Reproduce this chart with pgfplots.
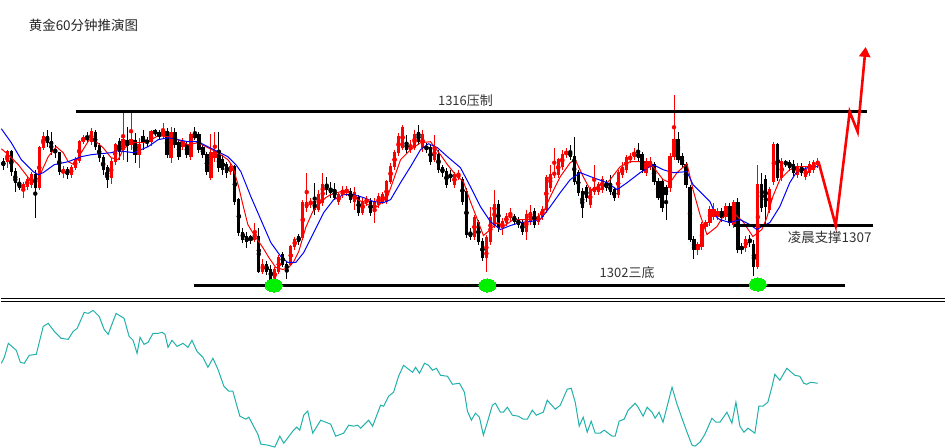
\documentclass[border=0pt]{standalone}
\usepackage{fontspec}
\setmainfont{Liberation Sans}
\newfontfamily\cjk{Noto Sans CJK SC}
\usepackage{pgfplots}
\usepackage{pgfplotstable}
\pgfplotsset{compat=1.18}
\usetikzlibrary{arrows.meta}
\definecolor{cred}{RGB}{255,0,0}
\definecolor{cblue}{RGB}{0,0,255}
\definecolor{osc}{RGB}{32,178,170}
\definecolor{dot}{RGB}{0,240,0}

% candles in pixel coordinates (y downward): x open close high low
\pgfplotstableread{
x o c h l
6 162 152 150 168
22 189 185 182 198
26 187 180 176 190
30 185 175 172 188
38 188 148 146 190
42 148 137 132 150
62 173 170 166 178
70 175 168 165 178
74 168 160 157 170
78 161 142 140 163
82 142 138 135 144
90 142 132 128 145
110 178 162 158 184
114 162 145 143 165
122 150 140 113 160
130 145 140 113 150
138 155 145 138 168
150 142 132 130 146
162 136 132 123 138
170 158 133 127 163
182 147 142 138 150
190 157 135 132 160
210 178 153 134 180
214 158 152 132 162
230 172 167 164 175
254 240 232 223 242
262 272 265 260 275
274 280 270 268 283
278 272 258 255 275
290 265 247 245 267
294 247 240 237 250
302 238 203 200 240
306 208 203 173 212
310 205 202 198 208
318 210 195 190 212
322 203 185 173 206
338 202 195 193 205
342 195 192 186 198
346 193 190 186 196
354 202 193 187 210
362 213 202 198 215
366 203 200 196 206
374 212 202 198 223
378 205 197 193 208
382 202 195 192 204
386 202 182 180 204
390 182 167 163 184
394 167 153 150 170
398 153 137 133 156
402 148 128 125 150
410 150 147 140 153
414 148 135 130 150
422 148 135 130 152
434 160 147 135 162
454 185 175 172 188
458 178 175 170 180
474 237 218 215 240
486 258 238 235 273
490 242 218 207 245
494 225 205 190 228
502 228 222 218 235
506 223 217 213 226
510 218 215 208 221
526 232 215 210 240
530 222 213 205 225
538 222 217 213 225
542 217 210 206 220
546 210 178 175 213
550 188 175 165 192
554 175 173 148 178
558 175 160 158 178
562 167 155 150 170
566 155 152 148 158
590 205 190 187 208
594 192 188 165 195
598 192 185 182 195
602 190 180 176 193
618 195 173 170 198
622 175 168 162 178
626 170 158 155 173
630 160 157 153 163
634 157 153 148 160
646 173 162 158 176
650 167 162 157 170
670 188 157 153 192
674 157 140 95 160
698 250 245 242 255
702 247 225 222 250
706 227 223 220 230
710 223 210 206 226
714 217 210 203 220
718 217 212 208 220
726 217 207 203 220
734 225 203 200 228
746 248 240 236 252
758 267 185 165 270
770 210 190 187 213
774 182 145 142 185
782 178 162 158 181
798 175 167 163 178
806 177 170 166 180
810 173 165 161 176
814 170 163 160 173
818 165 162 158 168
}\up

\pgfplotstableread{
x o c h l
2 162 166 158 170
10 152 172 150 176
14 172 183 168 192
18 183 188 178 190
34 175 188 170 218
46 137 143 130 147
50 142 152 132 155
54 150 153 145 158
58 153 172 152 175
66 170 175 167 179
86 137 140 132 143
94 133 147 130 150
98 146 158 143 162
102 158 170 155 175
106 168 180 165 188
118 142 152 138 160
126 141 145 127 162
134 141 155 133 163
142 137 142 130 150
146 141 143 137 147
154 131 134 129 136
158 133 137 130 140
166 132 155 128 158
174 133 145 128 148
178 143 157 140 160
186 145 155 142 158
194 135 138 127 140
198 135 150 132 153
202 148 155 145 158
206 155 172 152 175
218 155 168 132 172
222 160 170 155 175
226 165 173 162 178
234 167 202 165 205
238 200 233 198 236
242 233 240 228 243
246 237 242 232 248
250 237 240 235 244
258 237 272 228 274
266 265 272 262 276
270 270 280 266 282
282 255 265 252 268
286 265 270 262 280
298 237 242 234 245
314 202 210 183 215
326 185 190 177 195
330 189 193 182 198
334 190 198 183 200
350 192 200 188 203
358 198 213 195 216
370 202 213 198 216
406 143 150 135 153
418 133 142 125 145
426 147 150 143 153
430 148 162 145 165
438 155 170 150 173
442 168 173 165 177
446 172 185 168 188
450 175 178 170 182
462 180 202 177 205
466 192 235 188 238
470 233 237 228 240
478 223 242 220 245
482 242 258 238 262
498 205 228 200 232
514 217 222 214 224
518 220 225 217 228
522 223 232 220 235
534 212 225 208 228
570 152 157 145 160
574 157 182 137 185
578 173 193 170 196
582 192 208 188 218
586 188 198 185 202
606 183 188 180 191
610 185 192 175 195
614 190 198 187 201
638 153 158 143 161
642 155 170 152 173
654 165 182 162 185
658 182 198 178 200
662 182 208 178 212
666 188 195 185 220
678 140 160 132 163
682 157 165 153 168
686 165 185 162 188
690 188 240 185 242
694 240 250 236 260
722 212 218 208 222
730 207 223 203 226
738 203 250 198 253
742 247 250 243 254
750 240 243 235 247
754 245 267 240 277
762 185 208 173 212
766 180 207 175 225
778 145 178 143 181
786 162 165 160 167
790 163 168 160 171
794 165 173 160 176
802 167 173 163 176
}\down

\begin{document}
\begin{tikzpicture}
\begin{axis}[width=945pt,height=448pt,scale only axis,
  xmin=0,xmax=945,ymin=0,ymax=448,y dir=reverse,
  hide axis,clip=false]
\fill[white] (axis cs:0,0) rectangle (axis cs:945,448);

% wicks
\addplot[cred, only marks, mark=none, forget plot,
  error bars/.cd, y dir=both, y explicit, error mark=none,
  error bar style={line width=1pt, cred}]
  table[x=x, y expr={(\thisrow{h}+\thisrow{l})/2}, y error expr={(\thisrow{l}-\thisrow{h})/2}] {\up};
\addplot[black, only marks, mark=none, forget plot,
  error bars/.cd, y dir=both, y explicit, error mark=none,
  error bar style={line width=1pt, black}]
  table[x=x, y expr={(\thisrow{h}+\thisrow{l})/2}, y error expr={(\thisrow{l}-\thisrow{h})/2}] {\down};
% bodies
\addplot[cred, only marks, mark=none, forget plot,
  error bars/.cd, y dir=both, y explicit, error mark=none,
  error bar style={line width=3.2pt, cred}]
  table[x=x, y expr={(\thisrow{o}+\thisrow{c})/2}, y error expr={abs(\thisrow{o}-\thisrow{c})/2+0.5}] {\up};
\addplot[black, only marks, mark=none, forget plot,
  error bars/.cd, y dir=both, y explicit, error mark=none,
  error bar style={line width=3.2pt, black}]
  table[x=x, y expr={(\thisrow{o}+\thisrow{c})/2}, y error expr={abs(\thisrow{o}-\thisrow{c})/2+0.5}] {\down};

% fast MA (red)
\addplot[cred, line width=1pt] coordinates {
(0,149) (7,155) (17,165) (27,178) (33,183) (38,177) (47,157) (55,147) (62,153) (67,162) (73,165) (80,153) (88,140) (95,142) (102,148) (110,158) (117,160) (122,150) (127,145) (133,143) (143,143) (150,140) (157,136) (167,137) (177,140) (187,145) (197,143) (207,148) (217,153) (227,160) (232,167) (238,188) (242,205) (247,225) (253,235) (262,248) (268,258) (275,268) (282,270) (288,268) (293,262) (298,252) (305,228) (312,212) (318,205) (325,198) (330,195) (340,192) (348,193) (357,200) (367,205) (377,207) (387,197) (393,180) (400,160) (410,150) (420,143) (430,142) (440,155) (447,165) (455,175) (463,182) (470,202) (477,220) (483,236) (490,230) (497,223) (503,227) (513,220) (523,220) (533,220) (543,213) (550,197) (560,177) (570,163) (575,160) (583,177) (590,190) (600,190) (610,180) (620,167) (630,162) (643,162) (653,167) (663,180) (670,183) (677,173) (687,164) (693,190) (700,215) (707,235) (717,227) (723,217) (733,213) (743,222) (753,237) (762,230) (767,218) (773,197) (780,180) (790,170) (800,167) (810,167) (818,163)};
% slow MA (blue)
\addplot[cblue, line width=1pt] coordinates {
(0,129) (10,143) (20,160) (32,172) (37,175) (42,173) (53,165) (67,162) (80,157) (90,155) (110,153) (117,151) (133,153) (147,147) (157,140) (167,138) (187,142) (197,142) (207,147) (227,157) (235,165) (240,172) (250,197) (260,220) (270,243) (280,257) (287,263) (295,263) (303,253) (313,233) (323,213) (333,200) (343,195) (353,195) (363,198) (373,202) (383,203) (390,200) (400,183) (410,167) (420,150) (428,144) (437,148) (447,157) (460,168) (470,187) (480,207) (490,222) (500,230) (510,226) (520,223) (530,222) (540,220) (550,207) (560,193) (570,180) (580,173) (593,178) (607,183) (617,190) (627,183) (640,173) (653,165) (663,170) (673,173) (687,172) (693,185) (700,192) (710,202) (717,218) (720,220) (730,223) (740,220) (750,225) (757,230) (762,227) (770,223) (780,207) (790,183) (797,172) (803,170) (810,167) (818,167)};

% oscillator
\addplot[osc, line width=1pt] coordinates {
(0,364) (3,358) (7,344) (15,351) (19,363) (23,364) (28,356) (35,355) (42,327) (47,324) (53,332) (60,339) (67,340) (72,332) (76,329) (83,313) (87,314) (92,311) (98,317) (103,330) (107,335) (115,314) (123,319) (128,337) (132,341) (136,354) (139,338) (143,345) (147,343) (152,334) (157,334) (161,333) (164,335) (167,348) (171,341) (176,347) (182,344) (187,348) (191,341) (196,352) (202,358) (207,368) (212,359) (217,370) (223,387) (228,392) (232,392) (235,403) (239,417) (245,420) (248,418) (257,435) (260,445) (267,446) (274,448) (279,437) (283,444) (292,432) (296,428) (299,431) (303,416) (307,412) (312,434) (320,421) (330,425) (335,437) (343,434) (348,426) (353,427) (357,426) (360,429) (368,421) (372,427) (380,406) (383,407) (388,397) (393,393) (398,377) (403,366) (412,373) (415,368) (419,374) (424,364) (428,366) (432,371) (436,369) (440,376) (447,377) (452,385) (459,384) (464,393) (467,412) (471,421) (475,414) (479,418) (483,436) (487,423) (492,406) (495,404) (500,413) (503,413) (507,408) (512,416) (518,417) (523,420) (527,420) (532,411) (536,416) (543,413) (547,401) (555,410) (560,406) (567,390) (571,389) (575,403) (579,427) (583,418) (587,433) (591,422) (595,434) (600,434) (604,431) (612,437) (615,437) (619,422) (624,420) (628,411) (635,404) (638,408) (643,417) (647,408) (652,413) (655,419) (659,413) (663,423) (672,388) (677,405) (683,422) (687,433) (692,446) (695,447) (700,443) (705,435) (712,419) (716,423) (720,423) (727,413) (732,424) (736,403) (740,427) (744,433) (748,429) (755,434) (759,407) (763,407) (768,403) (772,388) (775,375) (780,381) (787,369) (795,376) (800,377) (804,384) (807,385) (811,383) (818,384)};

% separator
\addplot[black, line width=1pt] coordinates {(0,299.5) (945,299.5)};
\addplot[black, line width=1pt] coordinates {(0,301.8) (945,301.8)};

% levels
\addplot[black, line width=3pt] coordinates {(75,111.5) (867,111.5)};
\addplot[black, line width=3pt] coordinates {(193,286) (845,286)};
\addplot[black, line width=3pt] coordinates {(734,226) (873,226)};

% projected path
\addplot[cred, line width=2.6pt, line join=miter, -{Triangle[width=11pt,length=10pt]}] coordinates {(819,163) (836,226) (850,112) (858,132) (866,47)};

% triple bottom markers
\addplot[dot, only marks, mark=*, mark size=8.5pt, mark options={fill=dot, draw=dot, line width=0pt, yscale=0.78}] coordinates {(273,286) (487,286) (758,285)};

\node[anchor=west, font=\cjk\fontsize{13.5}{13.5}\selectfont, text=black!85] at (axis cs:24,25) {黄金60分钟推演图};
\node[font=\cjk\fontsize{13}{13}\selectfont, text=black!80] at (axis cs:465,101) {1316压制};
\node[font=\cjk\fontsize{13}{13}\selectfont, text=black!80] at (axis cs:627,273) {1302三底};
\node[font=\cjk\fontsize{13.5}{13.5}\selectfont, text=black!80] at (axis cs:830,238) {凌晨支撑1307};
\end{axis}
\end{tikzpicture}
\end{document}
